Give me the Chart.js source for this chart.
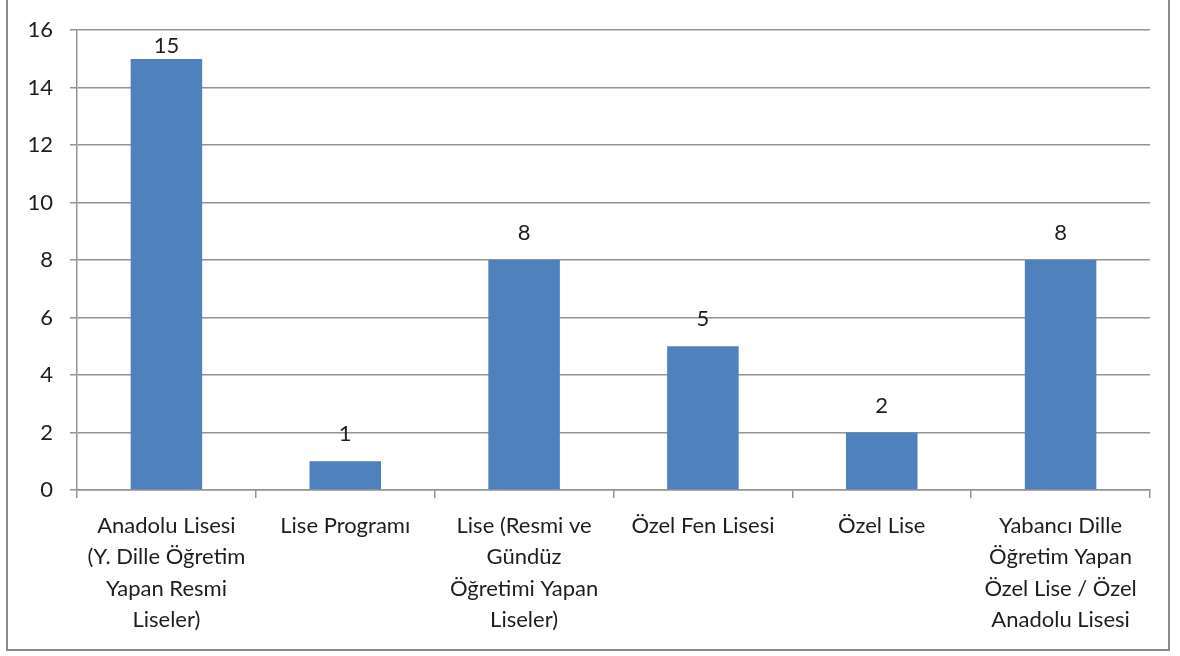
<!DOCTYPE html>
<html>
<head>
<meta charset="utf-8">
<script src="https://cdn.jsdelivr.net/npm/chart.js@4/dist/chart.umd.min.js"></script>
<style>
  html, body { margin: 0; padding: 0; background: #fff; }
  #wrap {
    position: absolute; left: 0; top: 0; width: 1180px; height: 656px;
  }
  #frame {
    position: absolute; left: 6px; top: -2px; width: 1164px; height: 653px;
    border: 2px solid #8a8a8a; box-sizing: border-box;
  }
</style>
</head>
<body>
<div id="wrap">
  <canvas id="schoolChart" width="1180" height="656"></canvas>
  <div id="frame"></div>
</div>
<script>
// school types (multi-line labels as in the original)
const categories = [
    ['Anadolu Lisesi', '(Y. Dille Öğretim', 'Yapan Resmi', 'Liseler)'],
    ['Lise Programı'],
    ['Lise (Resmi ve', 'Gündüz', 'Öğretimi Yapan', 'Liseler)'],
    ['Özel Fen Lisesi'],
    ['Özel Lise'],
    ['Yabancı Dille', 'Öğretim Yapan', 'Özel Lise / Özel', 'Anadolu Lisesi']
];
const counts = [15, 1, 8, 5, 2, 8];
const yTicks = [0, 2, 4, 6, 8, 10, 12, 14, 16];

const FONT = 'Lato, "DejaVu Sans", sans-serif';
const TEXT = '#1e1e1e';
const GRID = '#939393';

// values written above each bar
const valueLabels = {
    id: 'valueLabels',
    afterDatasetsDraw(chart) {
        const ctx = chart.ctx;
        const meta = chart.getDatasetMeta(0);
        ctx.save();
        ctx.font = '22px ' + FONT;
        ctx.fillStyle = TEXT;
        ctx.textAlign = 'center';
        ctx.textBaseline = 'middle';
        meta.data.forEach(function(bar, i) {
            let y = bar.y - 27;
            if (y < chart.chartArea.top + 16) y = chart.chartArea.top + 16;
            ctx.fillText(String(counts[i]), bar.x, y);
        });
        ctx.restore();
    }
};

new Chart(document.getElementById('schoolChart'), {
    type: 'bar',
    data: {
        labels: categories,
        datasets: [{
            data: counts,
            backgroundColor: '#4f81bd',
            borderWidth: 0,
            barPercentage: 0.8,
            categoryPercentage: 0.5
        }]
    },
    options: {
        responsive: false,
        animation: false,
        layout: { padding: { left: 10, right: 30, top: 29, bottom: 0 } },
        plugins: {
            legend: { display: false },
            tooltip: { enabled: false }
        },
        scales: {
            y: {
                min: 0,
                max: 16,
                afterFit(scale) { scale.width = 67; },
                afterBuildTicks(scale) { scale.ticks = yTicks.map(v => ({ value: v })); },
                ticks: {
                    font: { family: FONT, size: 22 },
                    color: TEXT,
                    padding: 17
                },
                grid: {
                    color: GRID,
                    lineWidth: 1.5,
                    tickLength: 7
                },
                border: { color: GRID, width: 1.5 }
            },
            x: {
                afterFit(scale) { scale.height = 166; },
                ticks: {
                    font: { family: FONT, size: 22, lineHeight: 1.43 },
                    color: TEXT,
                    maxRotation: 0,
                    autoSkip: false,
                    padding: 12
                },
                grid: {
                    offset: true,
                    drawOnChartArea: false,
                    color: GRID,
                    lineWidth: 1.5,
                    tickLength: 8
                },
                border: { color: GRID, width: 1.5 }
            }
        }
    },
    plugins: [valueLabels]
});
</script>
</body>
</html>
